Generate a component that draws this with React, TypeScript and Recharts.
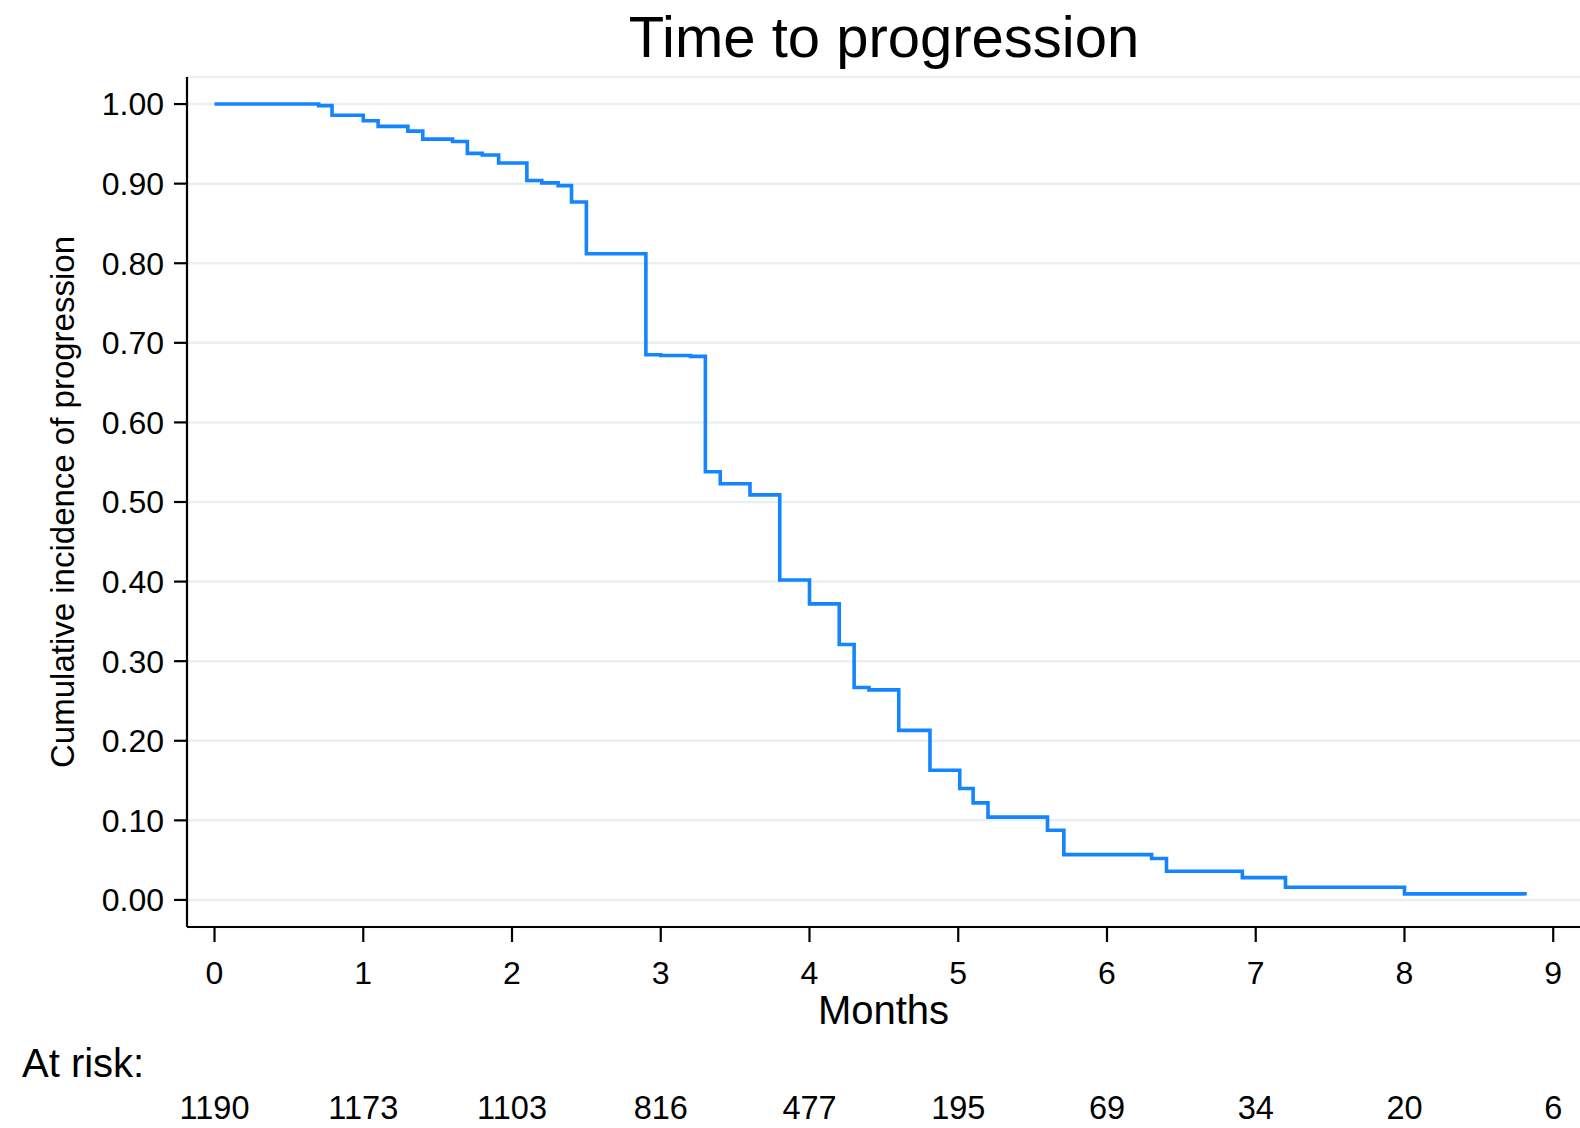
import React from "react";
import {
  LineChart,
  Line,
  XAxis,
  YAxis,
  CartesianGrid,
} from "recharts";

const months = [
  0, 0.7, 0.79, 1.0, 1.1, 1.3, 1.4, 1.6, 1.7, 1.8, 1.91, 2.1, 2.2, 2.31, 2.4,
  2.5, 2.9, 3.0, 3.2, 3.3, 3.4, 3.6, 3.8, 4.0, 4.2, 4.3, 4.4, 4.6, 4.81, 5.01,
  5.1, 5.2, 5.6, 5.71, 6.3, 6.4, 6.91, 7.2, 8.0, 8.81,
];
const incidence = [
  1.0, 0.998, 0.986, 0.979, 0.972, 0.966, 0.956, 0.953, 0.938, 0.936, 0.926,
  0.904, 0.901, 0.8975, 0.877, 0.812, 0.685, 0.684, 0.683, 0.538, 0.523, 0.509,
  0.402, 0.372, 0.321, 0.267, 0.264, 0.213, 0.163, 0.14, 0.122, 0.104, 0.0875,
  0.057, 0.052, 0.036, 0.028, 0.016, 0.0076, 0.0055,
];
const monthTicks = [0, 1, 2, 3, 4, 5, 6, 7, 8, 9];
const atRisk = [1190, 1173, 1103, 816, 477, 195, 69, 34, 20, 6];
const yTicks = [0, 0.1, 0.2, 0.3, 0.4, 0.5, 0.6, 0.7, 0.8, 0.9, 1.0];

const data = months.map((t, i) => ({ t, v: incidence[i] }));

const FONT = "'Liberation Sans', Arial, Helvetica, sans-serif";

const App: React.FC = () => {
  return (
    <div style={{ position: "absolute", left: 0, top: 0, width: 1580, height: 1128, background: "#fff", fontFamily: FONT }}>
      <div
        style={{
          position: "absolute",
          left: 884,
          top: 8,
          transform: "translateX(-50%)",
          whiteSpace: "nowrap",
          fontSize: 58,
          lineHeight: 1,
          color: "#000",
        }}
      >
        Time to progression
      </div>
      <div
        style={{
          position: "absolute",
          left: 22,
          top: 1043,
          whiteSpace: "nowrap",
          fontSize: 40,
          lineHeight: 1,
          color: "#000",
        }}
      >
        At risk:
      </div>
      <LineChart
        width={1580}
        height={1128}
        data={data}
        margin={{ top: 77, right: 0, left: 0, bottom: 0 }}
      >
        <CartesianGrid vertical={false} stroke="#e8f0f2" strokeWidth={2.5} />
        <XAxis
          dataKey="t"
          type="number"
          domain={[-0.185, 9.18]}
          ticks={monthTicks}
          allowDataOverflow
          height={75}
          tickSize={15}
          tickMargin={19}
          axisLine={{ stroke: "#000", strokeWidth: 2.2 }}
          tickLine={{ stroke: "#000", strokeWidth: 2.2 }}
          tick={{ fill: "#000", fontSize: 32, fontFamily: FONT }}
          label={{
            content: ({ viewBox }: any) => (
              <text
                x={viewBox.x + viewBox.width / 2}
                y={1024}
                textAnchor="middle"
                fontSize={40}
                fontFamily={FONT}
                fill="#000"
              >
                Months
              </text>
            ),
          }}
        />
        <XAxis
          xAxisId="risk"
          dataKey="t"
          type="number"
          domain={[-0.185, 9.18]}
          ticks={monthTicks}
          allowDataOverflow
          height={126}
          tickSize={0}
          tickMargin={94}
          axisLine={false}
          tickLine={false}
          tick={{ fill: "#000", fontSize: 32.5, fontFamily: FONT }}
          tickFormatter={(v: number) => String(atRisk[monthTicks.indexOf(v)] ?? "")}
        />
        <YAxis
          type="number"
          domain={[-0.034, 1.034]}
          ticks={yTicks}
          allowDataOverflow
          width={187}
          tickSize={13}
          tickMargin={10}
          axisLine={{ stroke: "#000", strokeWidth: 2.2 }}
          tickLine={{ stroke: "#000", strokeWidth: 2.2 }}
          tick={{ fill: "#000", fontSize: 32, fontFamily: FONT }}
          tickFormatter={(v: number) => v.toFixed(2)}
          label={{
            content: ({ viewBox }: any) => {
              const cy = viewBox.y + viewBox.height / 2;
              return (
                <text
                  x={74}
                  y={cy}
                  transform={`rotate(-90 74 ${cy})`}
                  textAnchor="middle"
                  fontSize={33}
                  fontFamily={FONT}
                  fill="#000"
                >
                  Cumulative incidence of progression
                </text>
              );
            },
          }}
        />
        <Line
          type="stepAfter"
          dataKey="v"
          stroke="#1584ff"
          strokeWidth={3.6}
          dot={false}
          activeDot={false}
          isAnimationActive={false}
        />
      </LineChart>
    </div>
  );
};

export default App;
